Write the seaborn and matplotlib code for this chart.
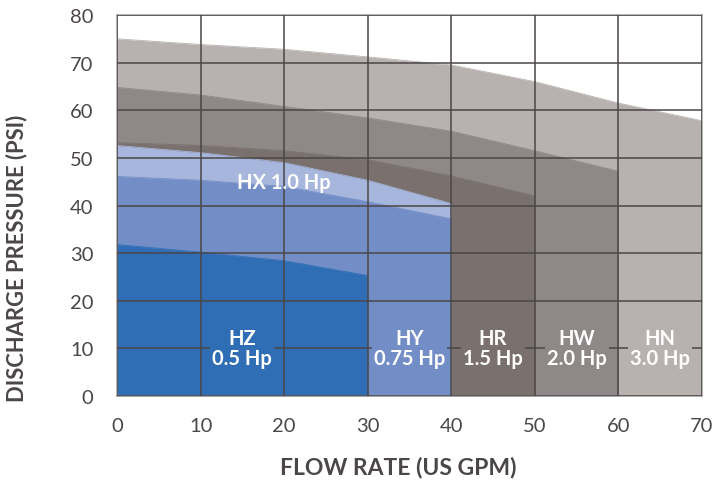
import matplotlib
matplotlib.use("Agg")
import matplotlib.pyplot as plt
import seaborn as sns
import pandas as pd

# pump curves (flow in US GPM, pressure in PSI)
hn_flow = [0, 10, 20, 30, 40, 50, 60, 70]
hn_psi = [75.0, 73.8, 72.8, 71.2, 69.5, 66.0, 61.5, 57.8]

hw_flow = [0, 10, 20, 30, 40, 50, 60]
hw_psi = [64.8, 63.2, 60.8, 58.4, 55.6, 51.5, 47.2]

hr_flow = [0, 10, 20, 30, 40, 50]
hr_psi = [53.2, 52.6, 51.5, 49.6, 46.2, 42.0]

hx_flow = [0, 10, 20, 30, 40]
hx_psi = [52.6, 51.1, 49.0, 45.3, 40.4]

hy_flow = [0, 10, 20, 30, 40]
hy_psi = [46.1, 45.3, 44.0, 40.8, 37.2]

hz_flow = [0, 10, 20, 30]
hz_psi = [31.8, 30.2, 28.4, 25.3]

models = ["HN", "HW", "HR", "HX", "HY", "HZ"]
hp_labels = ["3.0 Hp", "2.0 Hp", "1.5 Hp", "1.0 Hp", "0.75 Hp", "0.5 Hp"]
colors = ["#b7b2af", "#8e8887", "#7a716e", "#a7b6dc", "#738ec6", "#2f6eb5"]
curves = [(hn_flow, hn_psi), (hw_flow, hw_psi), (hr_flow, hr_psi),
          (hx_flow, hx_psi), (hy_flow, hy_psi), (hz_flow, hz_psi)]

# label anchor positions (data coords)
label_x = [65, 55, 45, 20, 35, 15]
label_y = [10, 10, 10, 45, 10, 10]

sns.set_style("white")
plt.rcParams['font.family'] = ['Lato', 'DejaVu Sans']

fig = plt.figure(figsize=(7.16, 4.89), dpi=100)
ax = fig.add_axes([0.1634, 0.1881, 0.817, 0.7792])

grid_color = "#4b4647"
text_color = "#4b4647"

for (fx, fy), col, name in zip(curves, colors, models):
    df = pd.DataFrame({"flow": fx, "psi": fy})
    ax.fill_between(df["flow"], 0, df["psi"], color=col, linewidth=0, zorder=1)
    sns.lineplot(data=df, x="flow", y="psi", ax=ax, color=col, linewidth=0.6,
                 zorder=1.5, legend=False)

for name, hp, col, lx, ly in zip(models, hp_labels, colors, label_x, label_y):
    if name == "HX":
        # one-line label sitting in the open band, no gridline to mask
        ax.text(lx, ly, f"{name} {hp}", ha="center", va="center", color="white",
                fontsize=14.5, fontweight="bold", zorder=3)
    else:
        # masked so the 10 PSI gridline breaks around the text
        ax.text(lx, ly, f"{name}\n{hp}", ha="center", va="center", color="white",
                fontsize=14.5, fontweight="bold", linespacing=1.0, zorder=3,
                bbox=dict(facecolor=col, edgecolor="none", pad=1.5))

ax.set_xlim(0, 70)
ax.set_ylim(0, 80)
ax.set_xticks(range(0, 71, 10))
ax.set_yticks(range(0, 81, 10))
ax.set_axisbelow(False)
ax.grid(True, color=grid_color, linewidth=1.1)
ax.tick_params(axis="both", length=0, labelsize=14.5, labelcolor=text_color)
ax.tick_params(axis="x", pad=15)
ax.tick_params(axis="y", pad=17)

for sp in ax.spines.values():
    sp.set_color("#a8a8a8")
    sp.set_linewidth(1.2)

ax.set_xlabel("")
ax.set_ylabel("")
fig.text(0.556, 0.022, "FLOW RATE (US GPM)", ha="center", va="bottom",
         fontsize=16.5, fontweight="bold", color=text_color)
fig.text(0.008, 0.472, "DISCHARGE PRESSURE (PSI)", ha="left", va="center",
         rotation=90, fontsize=15.8, fontweight="bold", color=text_color)

fig.savefig("out.png", dpi=100)
